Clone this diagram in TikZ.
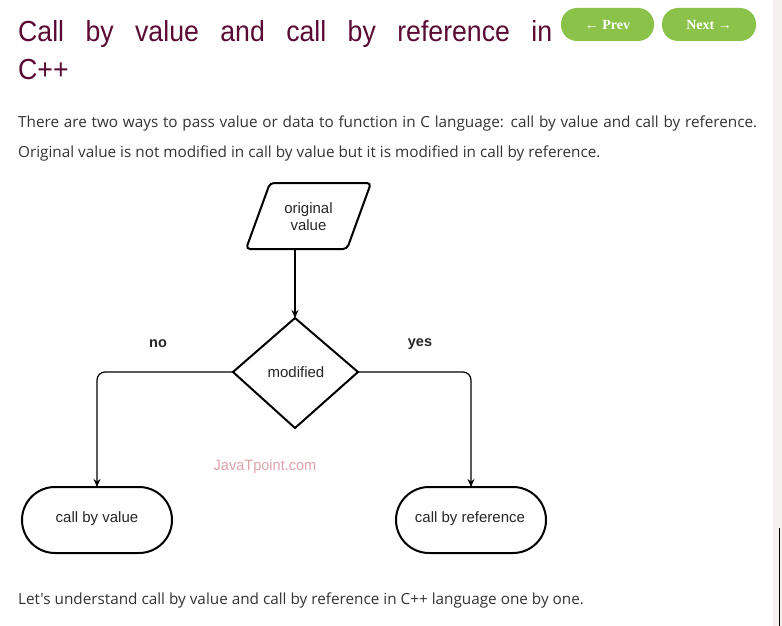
\documentclass[tikz,border=0pt]{standalone}
\usepackage{fontspec}
\setmainfont{Liberation Sans}
\newfontfamily\bodyfont{Open Sans}
\newfontfamily\btnfont{Liberation Serif}
\usetikzlibrary{shapes.geometric,arrows.meta}
\definecolor{titlecol}{HTML}{5A0A33}
\definecolor{btngreen}{HTML}{8BC34A}
\definecolor{bodycol}{HTML}{333333}
\definecolor{wmark}{HTML}{E0A3AB}
\definecolor{sidegrey}{HTML}{F5F1F1}
\tikzset{
  shapeline/.style={draw=black, line width=2pt},
  conn/.style={draw=black, line width=1.2pt, -{Stealth[length=8pt,width=7pt]}},
  lbl/.style={font=\fontsize{15}{17}\selectfont, text=black!85},
  btn/.style={fill=btngreen, rounded corners=16pt, draw=none},
  btntext/.style={text=white, font=\btnfont\bfseries\fontsize{14}{16}\selectfont},
  bodytext/.style={anchor=base west, inner sep=0pt, text=bodycol, font=\bodyfont\fontsize{15.3}{18}\selectfont},
}
\begin{document}
\begin{tikzpicture}[x=1pt,y=-1pt]
\useasboundingbox (0,0) rectangle (782,626);
\fill[white] (0,0) rectangle (782,626);
\fill[sidegrey] (773,0) rectangle (782,626);
\draw[black, line width=1pt] (779,528) -- (779,626);

% title
\node[anchor=base west, inner sep=0pt, text=titlecol, font=\fontsize{29}{34}\selectfont] (title1) at (18,42)
  {\makebox[534pt][s]{\scalebox{0.92}[1]{Call} \scalebox{0.92}[1]{by} \scalebox{0.92}[1]{value} \scalebox{0.92}[1]{and} \scalebox{0.92}[1]{call} \scalebox{0.92}[1]{by} \scalebox{0.92}[1]{reference} \scalebox{0.92}[1]{in}}};
\node[anchor=base west, inner sep=0pt, text=titlecol, font=\fontsize{29}{34}\selectfont] (title2) at (18,80) {\scalebox{0.92}[1]{C++}};

% buttons
\path[btn] (561,8) rectangle (654,41);
\node[btntext] (prev) at (607.5,24.5) {← Prev};
\path[btn] (662,8) rectangle (756,41);
\node[btntext] (next) at (709,24.5) {Next →};

% paragraph
\node[bodytext] (p1) at (18,128) {\makebox[739pt][s]{There are two ways to pass value or data to function in C language: call by value and call by reference.}};
\node[bodytext] (p2) at (18,157) {Original value is not modified in call by value but it is modified in call by reference.};
\node[bodytext] (p3) at (18,604) {Let's understand call by value and call by reference in C++ language one by one.};

% diagram
\draw[shapeline, rounded corners=4pt] (270,183) -- (371,183) -- (347,249) -- (246,249) -- cycle;
\node[lbl, align=center] (orig) at (308.5,217) {original\\value};
\coordinate (origb) at (295,249);
\draw[shapeline] (295,318) -- (358,372) -- (295,428) -- (233,372) -- cycle;
\node[lbl] (mod) at (296,372) {modified};
\coordinate (dtop) at (295,318);
\coordinate (dleft) at (233,372);
\coordinate (dright) at (358,372);

\draw[shapeline, rounded corners=33pt] (22,487) rectangle (172,553);
\node[lbl] (cbv) at (97,519) {call by value};
\coordinate (cbvtop) at (97,487);
\draw[shapeline, rounded corners=33pt] (396,487) rectangle (546,553);
\node[lbl] (cbr) at (470,519) {call by reference};
\coordinate (cbrtop) at (471,487);

\draw[conn] (origb) -- (dtop);
\draw[conn, rounded corners=8pt] (dleft) -| (cbvtop);
\draw[conn, rounded corners=8pt] (dright) -| (cbrtop);

\node[lbl, font=\bfseries\fontsize{14.5}{17}\selectfont] (no) at (158,344) {no};
\node[lbl, font=\bfseries\fontsize{14.5}{17}\selectfont] (yes) at (420,344) {yes};
\node[text=wmark, font=\fontsize{15}{17}\selectfont] (wm) at (265,467) {\scalebox{0.97}[1]{JavaTpoint.com}};
\end{tikzpicture}
\end{document}
